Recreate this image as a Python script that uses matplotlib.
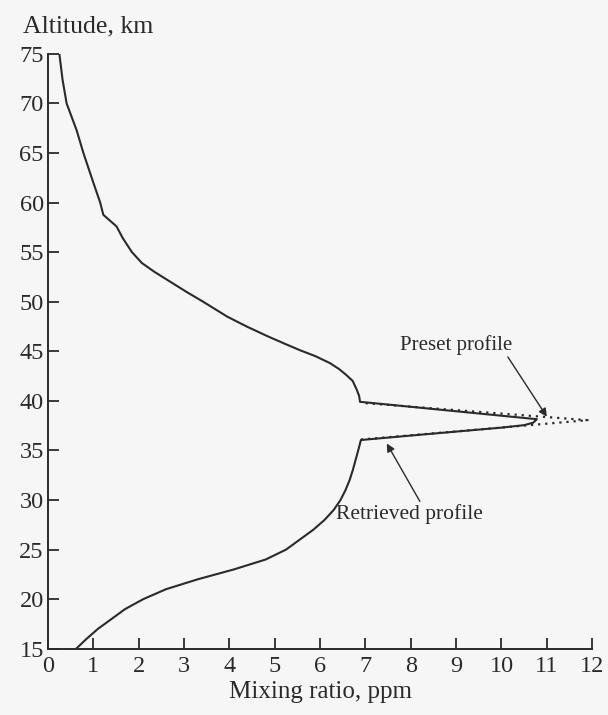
import matplotlib
matplotlib.use("Agg")
import matplotlib.pyplot as plt

# Retrieved profile (mixing ratio ppm, altitude km), traced from bottom to top
retrieved_ppm = [0.62, 0.85, 1.1, 1.4, 1.7, 2.1, 2.6, 3.3, 4.1, 4.8, 5.25, 5.55, 5.85,
                 6.1, 6.3, 6.45, 6.56, 6.65, 6.72, 6.78, 6.84, 6.9,
                 8.0, 9.0, 10.0, 10.5, 10.7, 10.78,
                 10.0, 9.0, 8.0, 7.0, 6.88,
                 6.86, 6.81, 6.72, 6.58, 6.42, 6.22, 5.9, 5.56, 5.2, 4.85, 4.38, 3.95,
                 3.42, 3.05, 2.7, 2.35, 2.07, 1.85, 1.65, 1.51, 1.22, 1.15,
                 1.0, 0.78, 0.63, 0.41, 0.32, 0.25]
retrieved_alt = [15.0, 16.0, 17.0, 18.0, 19.0, 20.0, 21.0, 22.0, 23.0, 24.0, 25.0, 26.0, 27.0,
                 28.0, 29.0, 30.0, 31.0, 32.0, 33.0, 34.0, 35.0, 36.05,
                 36.5, 36.9, 37.3, 37.55, 37.8, 38.15,
                 38.5, 38.95, 39.4, 39.85, 39.9,
                 40.5, 41.1, 42.0, 42.6, 43.2, 43.8, 44.5, 45.1, 45.8, 46.5, 47.5, 48.5,
                 50.0, 51.0, 52.0, 53.0, 53.9, 55.0, 56.4, 57.6, 58.76, 60.0,
                 62.0, 65.0, 67.3, 70.0, 72.4, 75.0]

# Preset profile (only the part that differs: the narrow layer)
preset_ppm = [6.9, 11.9, 6.9]
preset_alt = [36.1, 38.05, 39.8]

x_ticks = list(range(0, 13))
y_ticks = list(range(15, 76, 5))

ink = "#2a2a2a"
plt.rcParams['font.family'] = ['Liberation Serif', 'DejaVu Serif']

fig = plt.figure(figsize=(6.08, 7.15), dpi=100, facecolor="#f6f6f6")
ax = fig.add_axes([0.079, 0.0927, 0.895, 0.832])
ax.set_facecolor("#f6f6f6")

ax.plot(preset_ppm, preset_alt, linestyle=(0, (1, 2.2)), color=ink, lw=1.6)
ax.plot(retrieved_ppm, retrieved_alt, color=ink, lw=1.5)

ax.set_xlim(0, 12)
ax.set_ylim(15, 75)
ax.set_xticks(x_ticks)
ax.set_yticks(y_ticks)
for s in ["top", "right"]:
    ax.spines[s].set_visible(False)
for s in ["left", "bottom"]:
    ax.spines[s].set_linewidth(1.4)
    ax.spines[s].set_color(ink)
ax.tick_params(axis='both', direction='in', length=8, width=1.3, colors=ink,
               labelsize=17.5, labelcolor=ink)
ax.tick_params(axis='y', pad=3)
ax.tick_params(axis='x', pad=5)

ax.set_xlabel("Mixing ratio, ppm", fontsize=18, color=ink, labelpad=3)
fig.text(0.038, 0.978, "Altitude, km", fontsize=18.5, color=ink, ha='left', va='top')

ax.text(8.99, 45.65, "Preset profile", fontsize=15, color=ink, ha='center', va='center')
ax.annotate("", xy=(11.0, 38.4), xytext=(10.14, 44.43),
            arrowprops=dict(arrowstyle='-|>', color=ink, lw=1.0, shrinkA=0, shrinkB=0,
                            mutation_scale=12))
ax.text(7.96, 28.6, "Retrieved profile", fontsize=15.5, color=ink, ha='center', va='center')
ax.annotate("", xy=(7.47, 35.7), xytext=(8.2, 29.86),
            arrowprops=dict(arrowstyle='-|>', color=ink, lw=1.0, shrinkA=0, shrinkB=0,
                            mutation_scale=12))

fig.savefig("out.png", dpi=100, facecolor=fig.get_facecolor())
